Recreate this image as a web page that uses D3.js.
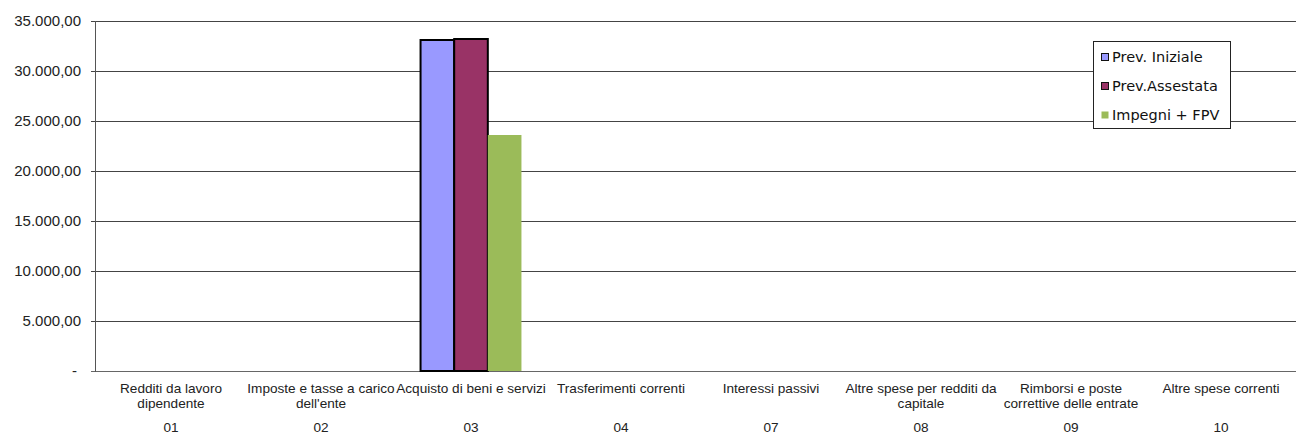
<!DOCTYPE html>
<html>
<head>
<meta charset="utf-8">
<title>Spese correnti per macroaggregato</title>
<script src="https://cdn.jsdelivr.net/npm/d3@7/dist/d3.min.js"></script>
<style>
  body { margin: 0; background: #fff; }
  svg { display: block; }
  .ytick { font: 15px "Liberation Sans", Arial, sans-serif; fill: #222; }
  .xlab { font: 13.6px "Liberation Sans", Arial, sans-serif; fill: #222; }
  .legend text { font: 14.5px "DejaVu Sans", Verdana, sans-serif; fill: #111; }
</style>
</head>
<body>
<div id="chart"></div>
<script>
// DATA
var codes = ["01", "02", "03", "04", "07", "08", "09", "10"];
var labels = [
  ["Redditi da lavoro", "dipendente"],
  ["Imposte e tasse a carico", "dell'ente"],
  ["Acquisto di beni e servizi"],
  ["Trasferimenti correnti"],
  ["Interessi passivi"],
  ["Altre spese per redditi da", "capitale"],
  ["Rimborsi e poste", "correttive delle entrate"],
  ["Altre spese correnti"]
];
var series = ["Prev. Iniziale", "Prev.Assestata", "Impegni + FPV"];
var prevIniziale  = [0, 0, 33100, 0, 0, 0, 0, 0];
var prevAssestata = [0, 0, 33200, 0, 0, 0, 0, 0];
var impegniFpv    = [0, 0, 23600, 0, 0, 0, 0, 0];
var yTicks = [0, 5000, 10000, 15000, 20000, 25000, 30000, 35000];

var colors = ["#9999ff", "#993366", "#9bbb59"];
var strokes = ["#000", "#000", "none"];
var values = [prevIniziale, prevAssestata, impegniFpv];

// DIMENSIONS
var W = 1296, H = 434;
var pLeft = 96, pRight = 1296, pTop = 21, pBottom = 371;

var svg = d3.select("#chart").append("svg")
  .attr("width", W).attr("height", H);

var x0 = d3.scaleBand().domain(codes).range([pLeft, pRight]).paddingInner(0).paddingOuter(0);
var x1 = d3.scaleBand().domain(d3.range(series.length))
  .range([0, x0.bandwidth()]).paddingOuter(0.73).paddingInner(0);
var y = d3.scaleLinear().domain([0, 35000]).range([pBottom, pTop]);

// number format it-IT
var it = d3.formatLocale({decimal: ",", thousands: ".", grouping: [3], currency: ["€", ""]});
var fmt = it.format(",.2f");

// GRID
svg.append("g").selectAll("line").data(yTicks).enter().append("line")
  .attr("x1", pLeft - 5).attr("x2", pRight)
  .attr("y1", function (d) { return Math.round(y(d)) + 0.5; })
  .attr("y2", function (d) { return Math.round(y(d)) + 0.5; })
  .attr("stroke", function (d) { return d === 0 ? "#666" : "#444"; })
  .attr("stroke-width", 1);

svg.append("g").selectAll("text").data(yTicks).enter().append("text")
  .attr("class", "ytick")
  .attr("x", function (d) { return d === 0 ? 77 : 81; })
  .attr("y", function (d) { return y(d); })
  .attr("dy", "0.35em")
  .attr("text-anchor", "end")
  .text(function (d) { return d === 0 ? "-" : fmt(d); });

// BARS
var groups = svg.append("g").selectAll("g").data(codes).enter().append("g")
  .attr("transform", function (d) { return "translate(" + x0(d) + ",0)"; });

groups.selectAll("rect")
  .data(function (d, i) { return values.map(function (v, s) { return {s: s, v: v[i]}; }); })
  .enter().filter(function (d) { return d.v > 0; })
  .append("rect")
  .attr("x", function (d) { return x1(d.s); })
  .attr("width", x1.bandwidth())
  .attr("y", function (d) { return y(d.v); })
  .attr("height", function (d) { return y(0) - y(d.v); })
  .attr("fill", function (d) { return colors[d.s]; })
  .attr("stroke", function (d) { return strokes[d.s]; })
  .attr("stroke-width", 2);

// AXES
svg.append("line")
  .attr("x1", pLeft - 0.5).attr("x2", pLeft - 0.5)
  .attr("y1", pTop).attr("y2", pBottom + 1)
  .attr("stroke", "#555");

var xl = svg.append("g").selectAll("g").data(codes).enter().append("g")
  .attr("transform", function (d) { return "translate(" + (x0(d) + x0.bandwidth() / 2) + ",0)"; });

xl.append("text").attr("class", "xlab").attr("text-anchor", "middle")
  .each(function (d, i) {
    var t = d3.select(this);
    labels[i].forEach(function (line, j) {
      t.append("tspan").attr("x", 0).attr("y", 393 + j * 15).text(line);
    });
  });

xl.append("text").attr("class", "xlab").attr("text-anchor", "middle")
  .attr("y", 432).text(function (d) { return d; });

// LEGEND
var lg = svg.append("g").attr("class", "legend");
lg.append("rect")
  .attr("x", 1093.5).attr("y", 41.5).attr("width", 137).attr("height", 87)
  .attr("fill", "#fff").attr("stroke", "#222");

var li = lg.selectAll("g").data(series).enter().append("g")
  .attr("transform", function (d, i) { return "translate(1101," + (57 + i * 29) + ")"; });

li.append("rect")
  .attr("x", 0.5).attr("y", -3.5).attr("width", 7).attr("height", 7)
  .attr("fill", function (d, i) { return colors[i]; })
  .attr("stroke", function (d, i) { return strokes[i] === "none" ? "none" : "#111"; });

li.append("text")
  .attr("x", 11).attr("dy", "0.35em")
  .text(function (d) { return d; });
</script>
</body>
</html>
